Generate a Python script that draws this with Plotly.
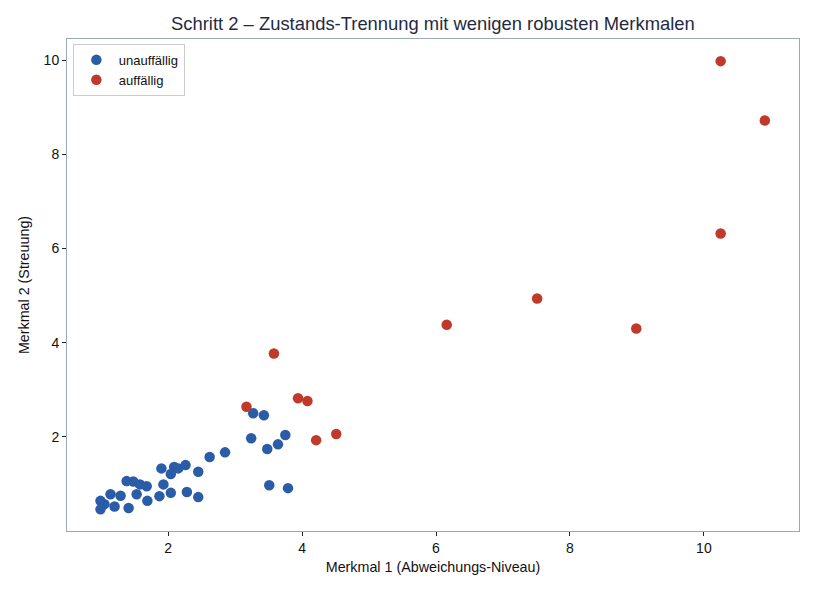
import plotly.graph_objects as go

# Merkmal 1 / Merkmal 2 values
normal_x = [0.99, 1.05, 0.99, 1.14, 1.20, 1.29, 1.41, 1.38, 1.48, 1.58, 1.68,
            1.53, 1.69, 1.87, 1.93, 2.04, 1.90, 2.09, 2.15, 2.26, 2.04, 2.28,
            2.45, 2.45, 2.62, 2.85, 3.24, 3.27, 3.43, 3.48, 3.64, 3.75, 3.51,
            3.79]
normal_y = [0.64, 0.57, 0.46, 0.78, 0.52, 0.75, 0.49, 1.06, 1.05, 0.99, 0.95,
            0.78, 0.64, 0.74, 0.99, 0.81, 1.33, 1.36, 1.33, 1.40, 1.21, 0.83,
            1.26, 0.72, 1.57, 1.67, 1.97, 2.50, 2.46, 1.74, 1.84, 2.04, 0.97,
            0.91]

anomal_x = [3.17, 3.94, 4.08, 4.21, 4.51, 3.58, 6.16, 7.51, 8.99, 10.25, 10.25, 10.91]
anomal_y = [2.64, 2.82, 2.76, 1.93, 2.06, 3.77, 4.38, 4.94, 4.30, 6.32, 9.98, 8.72]

BLUE = "#2b5ca8"
RED = "#c0392b"
FRAME = "#9aa8b8"

fig = go.Figure()
fig.add_trace(go.Scatter(x=normal_x, y=normal_y, mode="markers", name="unauffällig",
                         marker=dict(color=BLUE, size=10.5, line=dict(width=0))))
fig.add_trace(go.Scatter(x=anomal_x, y=anomal_y, mode="markers", name="auffällig",
                         marker=dict(color=RED, size=10.5, line=dict(width=0))))

axis_style = dict(showgrid=False, zeroline=False, showline=True, mirror=True,
                  linecolor=FRAME, linewidth=1, ticks="outside", ticklen=4,
                  tickcolor="#222222", tickfont=dict(size=14, color="#111111"))

# page body adds ~7px offset, margins compensate for it
fig.update_layout(
    width=814, height=594,
    margin=dict(l=59, r=23, t=31, b=71),
    paper_bgcolor="white", plot_bgcolor="white",
    font=dict(family="Liberation Sans, Arial, sans-serif", color="#111111"),
    title=dict(text="Schritt 2 – Zustands-Trennung mit wenigen robusten Merkmalen",
               x=0.522, xanchor="center", y=0.974, yanchor="middle",
               font=dict(size=18.4, color="#1f2a44")),
    xaxis=dict(range=[0.49, 11.42], tickvals=[2, 4, 6, 8, 10],
               title=dict(text="Merkmal 1 (Abweichungs-Niveau)", font=dict(size=14.3), standoff=7),
               **axis_style),
    yaxis=dict(range=[0.0, 10.45], tickvals=[2, 4, 6, 8, 10],
               title=dict(text="Merkmal 2 (Streuung)", font=dict(size=14.3), standoff=10),
               **axis_style),
    legend=dict(x=0.008, y=0.99, xanchor="left", yanchor="top",
                bgcolor="white", bordercolor="#cccccc", borderwidth=1,
                font=dict(size=13), itemwidth=35),
    showlegend=True,
)

fig.write_html("out.html")
